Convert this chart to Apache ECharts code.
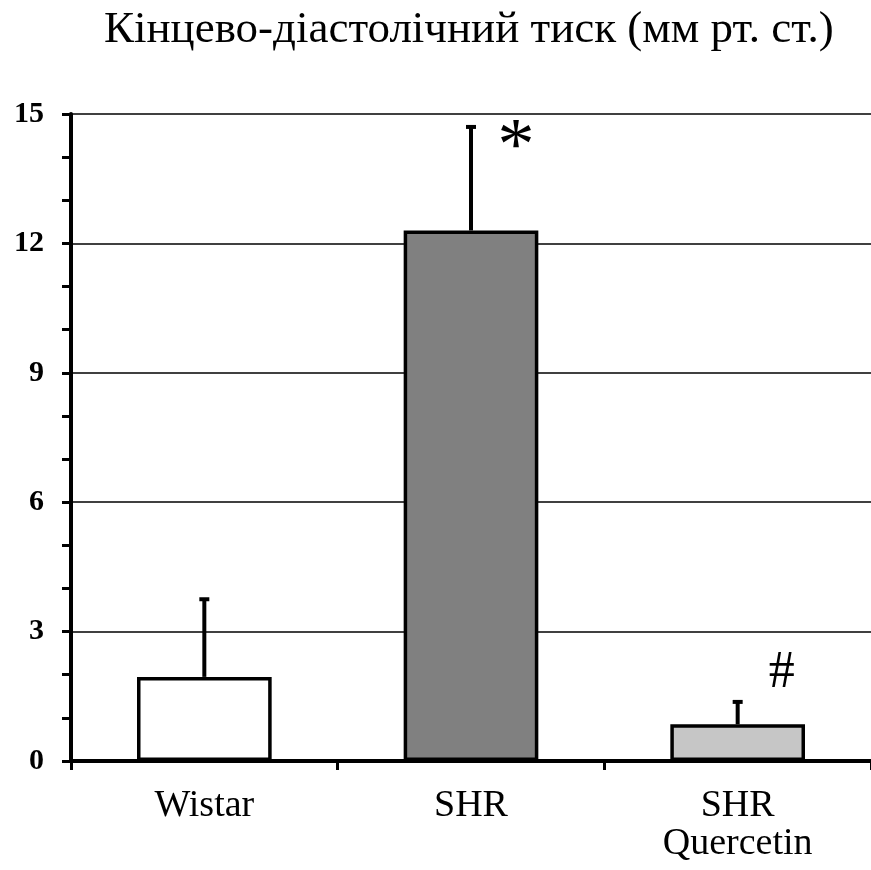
<!DOCTYPE html>
<html><head><meta charset="utf-8">
<script src="https://cdn.jsdelivr.net/npm/echarts@6/dist/echarts.min.js"></script>
<style>html,body{margin:0;padding:0;background:#fff}#c{width:871px;height:870px}</style>
</head><body><div id="c"></div>
<script>
const titleText = 'Кінцево-діастолічний тиск (мм рт. ст.)';
const categories = ['Wistar', 'SHR', 'SHR\nQuercetin'];
const means = [1.95, 12.3, 0.85];
const errTops = [3.75, 14.7, 1.37];
const marks = ['', '*', '#'];
const barColors = ['#ffffff', '#808080', '#c6c6c6'];
const yTicks = [0, 3, 6, 9, 12, 15];

const chart = echarts.init(document.getElementById('c'));
const serif = '"Liberation Serif", "DejaVu Serif", serif';
chart.setOption({
  animation: false,
  title: {text: titleText, left: 99, top: 3,
    textStyle: {fontFamily: serif, fontSize: 45, fontWeight: 'normal', color: '#000'}},
  grid: {left: 71, right: -5, top: 114, bottom: 109},
  xAxis: {type: 'category', data: categories,
    axisLine: {lineStyle: {color: '#000', width: 4}},
    axisTick: {show: true, length: 9, lineStyle: {color: '#000', width: 3}},
    axisLabel: {fontFamily: serif, fontSize: 38, color: '#000', margin: 26, lineHeight: 38}},
  yAxis: {type: 'value', min: yTicks[0], max: yTicks[yTicks.length-1], interval: 3,
    axisLine: {show: true, lineStyle: {color: '#000', width: 4}},
    axisTick: {show: true, length: 9, lineStyle: {color: '#000', width: 3}},
    minorTick: {show: true, splitNumber: 3, length: 9, lineStyle: {color: '#000', width: 3}},
    splitLine: {lineStyle: {color: '#000', width: 1.5}},
    axisLabel: {fontFamily: serif, fontSize: 30, fontWeight: 'bold', color: '#000', margin: 27}},
  series: [
    {type: 'bar', barWidth: '50.5%', z: 3,
     data: means.map((v, i) => ({value: v, itemStyle: {color: barColors[i]}})),
     itemStyle: {borderColor: '#000', borderWidth: 3.5}},
    {type: 'custom', z: 2,
     data: means.map((v, i) => [i, v, errTops[i]]),
     renderItem: function(params, api) {
       const i = api.value(0);
       const p0 = api.coord([i, api.value(1)]);
       const p1 = api.coord([i, api.value(2)]);
       const children = [
         {type: 'line', shape: {x1: p0[0], y1: p0[1], x2: p1[0], y2: p1[1]}, style: {stroke: '#000', lineWidth: 4}},
         {type: 'line', shape: {x1: p1[0]-5, y1: p1[1], x2: p1[0]+5, y2: p1[1]}, style: {stroke: '#000', lineWidth: 4}}
       ];
       const m = marks[i];
       if (m) {
         children.push({type: 'text', x: p1[0] + (m === '*' ? 45 : 44), y: p1[1] + (m === '*' ? 23 : -29),
           style: {text: m, font: (m === '*' ? '74px ' : '52px ') + serif, fill: '#000', align: 'center', verticalAlign: 'middle'}});
       }
       return {type: 'group', children: children};
     }}
  ]
});
</script></body></html>
